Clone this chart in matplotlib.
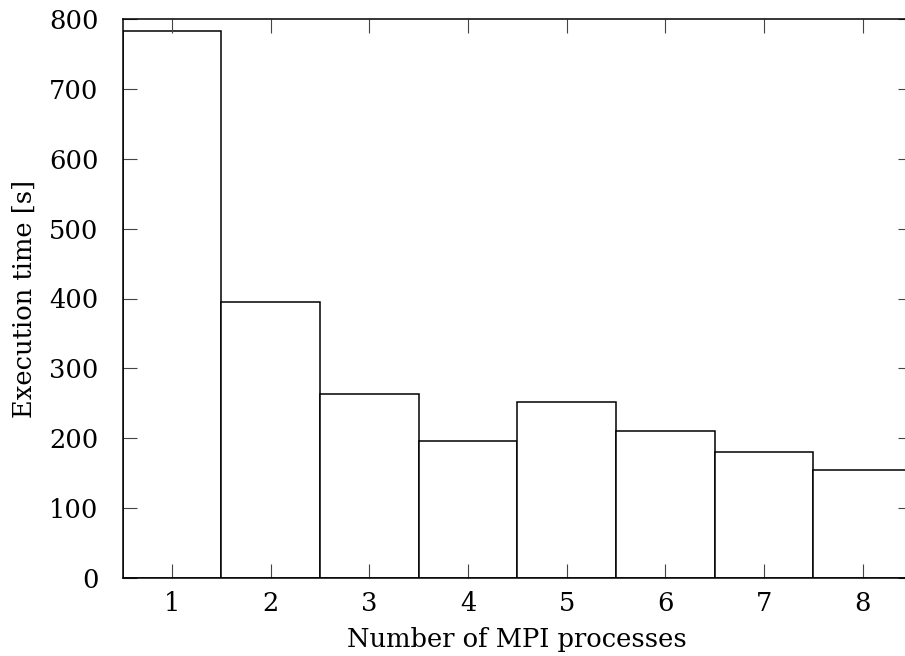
#!/usr/bin/env python
# -*- coding: utf-8 -*-
"""Execution time vs number of MPI processes (gnuplot-style bar chart)."""
import matplotlib
matplotlib.use('Agg')
import matplotlib.pyplot as plt

NPROCS = [1, 2, 3, 4, 5, 6, 7, 8]
EXEC_TIME = [782, 395, 263, 196, 252, 210, 180, 155]
YTICKS = [0, 100, 200, 300, 400, 500, 600, 700, 800]

plt.rcParams['font.family'] = ['DejaVu Serif']
plt.rcParams['font.size'] = 18.5

fig = plt.figure(figsize=(9.05, 6.56), dpi=100)
# right edge sits slightly past the figure, as in the original
ax = fig.add_axes([122.7 / 905, (656 - 578.3) / 656,
                   (912 - 122.7) / 905, (578.3 - 18.7) / 656])

ax.bar(NPROCS, EXEC_TIME, width=1.0, color='white', edgecolor='black',
       linewidth=1.1)

ax.set_xlim(0.5, 8.5)
ax.set_ylim(0, 800)
ax.set_xticks(NPROCS)
ax.set_yticks(YTICKS)
ax.tick_params(direction='in', length=10, width=0.8, color='#444444',
               top=True, right=True)
ax.tick_params(axis='y', pad=17.5)
ax.tick_params(axis='x', pad=9.5)
for sp in ax.spines.values():
    sp.set_linewidth(1.1)

ax.set_xlabel('Number of MPI processes', labelpad=7.5)
ax.set_ylabel('Execution time [s]', labelpad=9)

fig.savefig('out.png', dpi=100)
plt.close(fig)
